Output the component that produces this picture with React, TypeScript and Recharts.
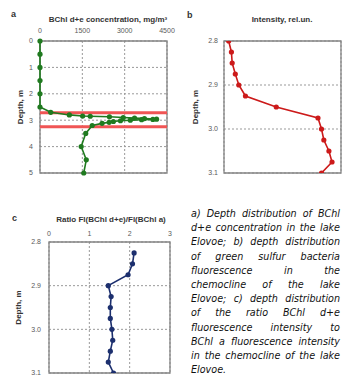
import { ScatterChart, Scatter, XAxis, YAxis, CartesianGrid, ReferenceLine, ReferenceArea } from 'recharts'

// a) BChl d+e concentration vs depth
const depthA = [0, 0.5, 1, 1.5, 2, 2.5, 2.7, 2.8, 2.84, 2.85, 2.87, 2.9, 2.92, 2.94, 2.96, 2.97, 2.98, 3.0, 3.02, 3.05, 3.08, 3.12, 3.2, 3.5, 4.0, 4.5, 5.0]
const concA = [0, 0, 0, 0, 0, 0, 380, 1040, 1510, 1780, 2460, 2950, 3350, 3700, 4130, 4000, 3600, 3200, 2850, 2600, 2450, 2200, 1850, 1620, 1460, 1640, 1550]
const chemoclineBounds = [2.72, 3.25]

// b) intensity vs depth
const depthB = [2.8, 2.825, 2.85, 2.875, 2.9, 2.925, 2.95, 2.975, 3.0, 3.025, 3.05, 3.075, 3.1]
const intensityB = [0.12, 0.19, 0.21, 0.29, 0.38, 0.55, 1.34, 2.41, 2.5, 2.56, 2.69, 2.77, 2.5]

// c) ratio vs depth
const depthC = [2.825, 2.85, 2.875, 2.9, 2.925, 2.95, 2.975, 3.0, 3.025, 3.05, 3.075, 3.1]
const ratioC = [2.11, 2.07, 1.96, 1.47, 1.54, 1.52, 1.52, 1.56, 1.58, 1.52, 1.47, 1.6]

const ticksConc = [0, 1500, 3000, 4500]
const ticksDepthA = [0, 1, 2, 3, 4, 5]
const ticksDepthBC = [2.8, 2.9, 3.0, 3.1]
const ticksUnit = [0, 1, 2, 3]

const captionLines = [
  'a) Depth distribution of BChl',
  'd+e concentration in the lake',
  'Elovoe; b) depth distribution',
  'of green sulfur bacteria',
  'fluorescence in the',
  'chemocline of the lake',
  'Elovoe; c) depth distribution',
  'of the ratio BChl d+e',
  'fluorescence intensity to',
  'BChl a fluorescence intensity',
  'in the chemocline of the lake',
  'Elovoe.',
]

const dataA = depthA.map((d, i) => ({ depth: d, v: concA[i] }))
const dataB = depthB.map((d, i) => ({ depth: d, v: intensityB[i] }))
const dataC = depthC.map((d, i) => ({ depth: d, v: ratioC[i] }))

const tickStyle = { fontSize: 7, fill: '#5a5a5a', fontFamily: 'Liberation Sans, Arial, sans-serif' }
const labelStyle = { fontSize: 8, fill: '#333', fontWeight: 700, fontFamily: 'Liberation Sans, Arial, sans-serif' }
const FRAME = '#848484'

function dot(color: string) {
  return (p: any) => <circle cx={p.cx} cy={p.cy} r={2.6} fill={color} />
}

const titleCss: React.CSSProperties = {
  position: 'absolute',
  fontFamily: 'Liberation Sans, Arial, sans-serif',
  fontSize: 8,
  fontWeight: 700,
  color: '#333',
  textAlign: 'center',
  whiteSpace: 'nowrap',
}

const letterCss: React.CSSProperties = {
  position: 'absolute',
  fontFamily: 'Liberation Sans, Arial, sans-serif',
  fontSize: 9,
  fontWeight: 700,
  color: '#333',
  lineHeight: '10px',
}

export default function App() {
  return (
    <div style={{ position: 'fixed', left: 0, top: 0, width: 342, height: 375, overflow: 'hidden', background: '#fff' }}>
      <div style={{ ...letterCss, left: 11, top: 9 }}>a</div>
      <div style={{ ...letterCss, left: 187, top: 10 }}>b</div>
      <div style={{ ...letterCss, left: 12, top: 213 }}>c</div>

      <div style={{ ...titleCss, left: 38, top: 15, width: 140 }}>BChl d+e concentration, mg/m³</div>
      <div style={{ ...titleCss, left: 222, top: 15, width: 120 }}>Intensity, rel.un.</div>
      <div style={{ ...titleCss, left: 41, top: 215, width: 140 }}>Ratio Fl(BChl d+e)/Fl(BChl a)</div>

      {/* a */}
      <div style={{ position: 'absolute', left: 0, top: 0 }}>
        <ScatterChart width={182} height={180} margin={{ top: 23, right: 15, bottom: 7, left: 0 }}>
          <CartesianGrid stroke="#999" strokeDasharray="2 2" />
          <XAxis type="number" dataKey="v" orientation="top" domain={[0, 4500]} ticks={ticksConc}
            height={18} tickLine={false} axisLine={false} tickSize={0} tickMargin={8} tick={tickStyle} interval={0} />
          <YAxis type="number" dataKey="depth" domain={[0, 5]} reversed ticks={ticksDepthA}
            width={40} tickLine={false} axisLine={false} tickSize={0} tickMargin={7} tick={tickStyle} interval={0}
            label={{ value: 'Depth, m', angle: -90, position: 'center', style: labelStyle }} />
          <ReferenceArea x1={0} x2={4500} y1={0} y2={5} fill="none" stroke={FRAME} strokeWidth={1.3} />
          {chemoclineBounds.map((d) => (
            <ReferenceLine key={d} y={d} stroke="#f05555" strokeWidth={3} />
          ))}
          <Scatter data={dataA} fill="#1f7a1f" line={{ stroke: '#1f7a1f', strokeWidth: 1.6 }}
            shape={dot('#1f7a1f')} isAnimationActive={false} />
        </ScatterChart>
      </div>

      {/* b */}
      <div style={{ position: 'absolute', left: 171, top: 0 }}>
        <ScatterChart width={171} height={180} margin={{ top: 23, right: 1, bottom: 7, left: 0 }}>
          <CartesianGrid stroke="#999" strokeDasharray="2 2" />
          <XAxis type="number" dataKey="v" orientation="top" domain={[0, 3]} ticks={ticksUnit}
            height={18} tickLine={false} axisLine={false} tick={false} interval={0} />
          <YAxis type="number" dataKey="depth" domain={[2.8, 3.1]} reversed ticks={ticksDepthBC}
            width={53} tickLine={false} axisLine={false} tickSize={0} tickMargin={6} tick={tickStyle} interval={0}
            tickFormatter={(t: number) => t.toFixed(1)} allowDataOverflow
            label={{ value: 'Depth, m', angle: -90, position: 'center', dx: -2, style: labelStyle }} />
          <ReferenceArea x1={0} x2={3} y1={2.8} y2={3.1} fill="none" stroke={FRAME} strokeWidth={1.3} />
          <Scatter data={dataB} fill="#cc1a1a" line={{ stroke: '#cc1a1a', strokeWidth: 1.6 }}
            shape={dot('#cc1a1a')} isAnimationActive={false} />
        </ScatterChart>
      </div>

      {/* c */}
      <div style={{ position: 'absolute', left: 0, top: 190 }}>
        <ScatterChart width={180} height={185} margin={{ top: 34, right: 10, bottom: 2, left: 0 }}>
          <CartesianGrid stroke="#999" strokeDasharray="2 2" />
          <XAxis type="number" dataKey="v" orientation="top" domain={[0, 3]} ticks={ticksUnit}
            height={18} tickLine={false} axisLine={false} tickSize={0} tickMargin={6} tick={tickStyle} interval={0} />
          <YAxis type="number" dataKey="depth" domain={[2.8, 3.1]} reversed ticks={ticksDepthBC}
            width={49} tickLine={false} axisLine={false} tickSize={0} tickMargin={8} tick={tickStyle} interval={0}
            tickFormatter={(t: number) => t.toFixed(1)} allowDataOverflow
            label={{ value: 'Depth, m', angle: -90, position: 'center', dx: -6, style: labelStyle }} />
          <ReferenceArea x1={0} x2={3} y1={2.8} y2={3.1} fill="none" stroke={FRAME} strokeWidth={1.3} />
          <Scatter data={dataC} fill="#1c2f6e" line={{ stroke: '#1c2f6e', strokeWidth: 1.6 }}
            shape={dot('#1c2f6e')} isAnimationActive={false} />
        </ScatterChart>
      </div>

      <div style={{ position: 'absolute', left: 191, top: 207, width: 149, fontFamily: 'DejaVu Sans, sans-serif',
        fontStyle: 'italic', fontSize: 9.6, lineHeight: '14.2px', color: '#111' }}>
        {captionLines.map((line, i) => (
          <div key={i} style={{ whiteSpace: 'nowrap', textAlign: 'justify', textAlignLast: i < captionLines.length - 1 ? 'justify' : 'left' }}>
            {line}
          </div>
        ))}
      </div>
    </div>
  )
}
